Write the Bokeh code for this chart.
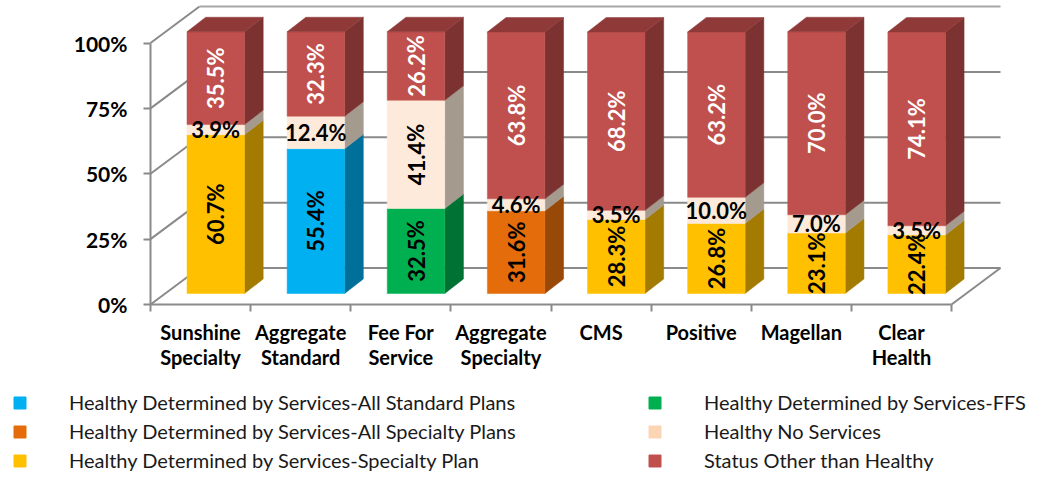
from bokeh.plotting import figure
from bokeh.models import (ColumnDataSource, LinearAxis, FixedTicker, Legend, LegendItem,
                          PrintfTickFormatter, Range1d, AllLabels)
from bokeh.core.properties import value
from bokeh.embed import file_html
from bokeh.resources import INLINE

categories = ["Sunshine\nSpecialty", "Aggregate\nStandard", "Fee For\nService", "Aggregate\nSpecialty",
              "CMS", "Positive", "Magellan", "Clear\nHealth"]
y_ticks = [0, 25, 50, 75, 100]

standard_plans  = [0, 55.4, 0, 0, 0, 0, 0, 0]
specialty_plans = [0, 0, 0, 31.6, 0, 0, 0, 0]
specialty_plan  = [60.7, 0, 0, 0, 28.3, 26.8, 23.1, 22.4]
ffs             = [0, 0, 32.5, 0, 0, 0, 0, 0]
no_services     = [3.9, 12.4, 41.4, 4.6, 3.5, 10.0, 7.0, 3.5]
other           = [35.5, 32.3, 26.2, 63.8, 68.2, 63.2, 70.0, 74.1]

series = [
    ("Healthy Determined by Services-All Standard Plans", standard_plans, "#00B0F0", "#00709A", "#00B0F0"),
    ("Healthy Determined by Services-All Specialty Plans", specialty_plans, "#E46C0A", "#984807", "#E46C0A"),
    ("Healthy Determined by Services-Specialty Plan", specialty_plan, "#FFC000", "#A37B00", "#FFC000"),
    ("Healthy Determined by Services-FFS", ffs, "#00B050", "#007233", "#00B050"),
    ("Healthy No Services", no_services, "#FDEADA", "#A59A8E", "#FCD5B5"),
    ("Status Other than Healthy", other, "#C0504D", "#7C3230", "#C0504D"),
]

W, H = 1037, 478
X0, PX_PER_CAT = 150.0, 100.125      # page px of x=0, px per category
Y0, PX_PER_PCT = 304.0, 2.615        # page px of y=0, px per percent

GRID = "#8A8A8A"
GRID_TOP = "#A6A6A6"
FONT = value("Lato")

x_range = Range1d(-X0 / PX_PER_CAT, (W - X0) / PX_PER_CAT)
y_range = Range1d((Y0 - H) / PX_PER_PCT, Y0 / PX_PER_PCT)

p = figure(width=W, height=H, x_range=x_range, y_range=y_range, output_backend="svg",
           toolbar_location=None, x_axis_location=None, y_axis_location=None,
           min_border=0, outline_line_color=None, background_fill_color="white",
           border_fill_color="white")
p.grid.visible = False

# 3-D wall and floor
wall_dx = 49 / PX_PER_CAT
wall_dy = 36.5 / PX_PER_PCT
n = len(categories)
wall_colors = [GRID, GRID, GRID, GRID, GRID_TOP]
p.segment(x0=[0] * 5, y0=y_ticks, x1=[wall_dx] * 5, y1=[t + wall_dy for t in y_ticks],
          line_color=GRID, line_width=2)
p.segment(x0=[wall_dx] * 5, y0=[t + wall_dy for t in y_ticks], x1=[n + wall_dx] * 5,
          y1=[t + wall_dy for t in y_ticks], line_color=wall_colors, line_width=2)
p.segment(x0=[n], y0=[0], x1=[n + wall_dx], y1=[wall_dy], line_color=GRID, line_width=2)

# Bars
bar_off = 36.5 / PX_PER_CAT
bar_w = 57.5 / PX_PER_CAT
base = 11 / PX_PER_PCT
dx = 18.7 / PX_PER_CAT
dy = 14.5 / PX_PER_PCT

bottoms = [0.0] * n
legend_items = []
lab_x, lab_y, lab_t, lab_col, lab_ang = [], [], [], [], []
for name, vals, front, side, swatch in series:
    idx = [i for i in range(n) if vals[i] > 0]
    left = [i + bar_off for i in idx]
    right = [i + bar_off + bar_w for i in idx]
    low = [bottoms[i] + base for i in idx]
    high = [bottoms[i] + vals[i] + base for i in idx]
    p.patches(xs=[[r, r + dx, r + dx, r] for r in right],
              ys=[[l, l + dy, h + dy, h] for l, h in zip(low, high)],
              fill_color=side, line_color=side, line_width=0.5)
    r_front = p.quad(left=left, right=right, bottom=low, top=high,
                     fill_color=front, line_color=front, line_width=0.5)
    legend_src = p.quad(left=[0], right=[0], bottom=[0], top=[0], fill_color=swatch, line_color=swatch)
    legend_items.append(LegendItem(label=name, renderers=[legend_src]))
    for i, l, h in zip(idx, low, high):
        lab_x.append(i + bar_off + bar_w / 2)
        lab_y.append((l + h) / 2)
        lab_t.append(f"{vals[i]:.1f}%")
        lab_col.append("white" if name == "Status Other than Healthy" else "black")
        lab_ang.append(0 if name == "Healthy No Services" and vals[i] < 15 else 1.5708)
    bottoms = [bottoms[i] + vals[i] for i in range(n)]

# Bar tops (last series only)
tops = [bottoms[i] + base for i in range(n)]
p.patches(xs=[[i + bar_off, i + bar_off + bar_w, i + bar_off + bar_w + dx, i + bar_off + dx] for i in range(n)],
          ys=[[t, t, t + dy, t + dy] for t in tops],
          fill_color="#8F3A38", line_color="#8F3A38", line_width=0.5)

src = ColumnDataSource(dict(x=lab_x, y=lab_y, t=lab_t, c=lab_col, a=lab_ang))
p.text(x="x", y="y", text="t", angle="a", text_color="c", source=src, text_align="center",
       text_baseline="middle", text_font=FONT, text_font_size="22px", text_font_style="bold")

# Axes
yaxis = LinearAxis(fixed_location=0, bounds=(0, 100), ticker=FixedTicker(ticks=y_ticks),
                   formatter=PrintfTickFormatter(format="%d%%"))
yaxis.axis_line_color = GRID
yaxis.axis_line_width = 2
yaxis.major_tick_line_color = GRID
yaxis.major_tick_line_width = 2
yaxis.major_tick_out = 7
yaxis.major_tick_in = 0
yaxis.minor_tick_line_color = None
yaxis.major_label_standoff = 16
yaxis.major_label_text_font = "Lato"
yaxis.major_label_text_font_style = "bold"
yaxis.major_label_text_font_size = "21px"
yaxis.major_label_text_color = "black"
p.add_layout(yaxis, "left")

xaxis = LinearAxis(fixed_location=0, bounds=(0, n),
                   ticker=FixedTicker(ticks=[i + 0.5 for i in range(n)], minor_ticks=list(range(n + 1))))
xaxis.major_label_overrides = {i + 0.5: c for i, c in enumerate(categories)}
xaxis.major_label_policy = AllLabels()
xaxis.axis_line_color = GRID
xaxis.axis_line_width = 2
xaxis.major_tick_line_color = None
xaxis.minor_tick_line_color = GRID
xaxis.minor_tick_line_width = 2
xaxis.minor_tick_out = 7
xaxis.minor_tick_in = 0
xaxis.major_label_standoff = 8
xaxis.major_label_text_font = "Lato"
xaxis.major_label_text_font_style = "bold"
xaxis.major_label_text_font_size = "20px"
xaxis.major_label_text_color = "black"
xaxis.major_label_text_line_height = 1.07
p.add_layout(xaxis, "below")

# Legends
def legend(items, x, y):
    return Legend(items=items, location=(x, y), orientation="vertical", glyph_width=15, glyph_height=15,
                  label_standoff=42, spacing=5, padding=0, margin=0, background_fill_alpha=0,
                  border_line_color=None, label_text_font="Lato", label_text_font_size="20px",
                  label_text_color="#1A1A1A", label_height=20, click_policy="none")

p.add_layout(legend(legend_items[:3], 12, 478 - 472))
p.add_layout(legend(legend_items[3:], 647, 478 - 472))

open("out.html", "w").write(file_html(p, INLINE))
